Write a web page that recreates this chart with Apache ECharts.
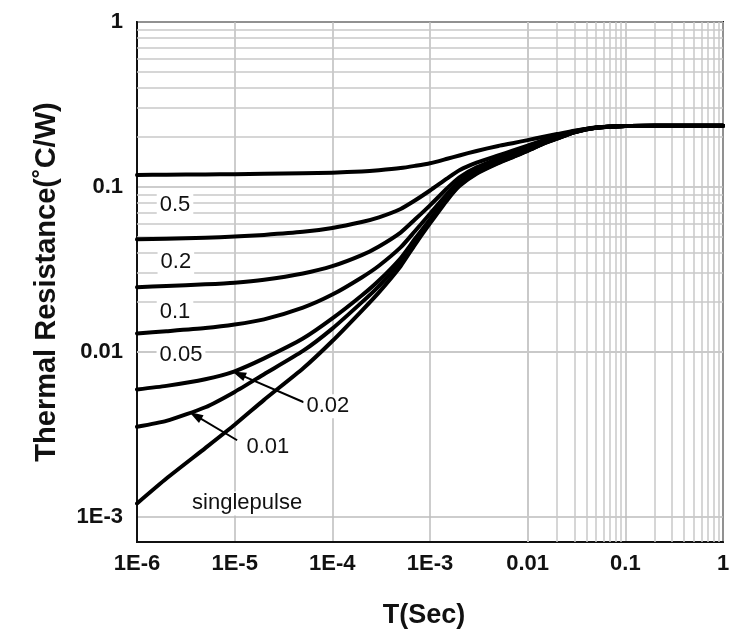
<!DOCTYPE html>
<html>
<head>
<meta charset="utf-8">
<script src="https://cdn.jsdelivr.net/npm/echarts@6/dist/echarts.min.js"></script>
<style>
html,body{margin:0;padding:0;background:#fff;}
#chart{width:752px;height:637px;}
</style>
</head>
<body>
<div id="chart"></div>
<script>
// ---- data ----
const timeSec = [1e-6, 2e-6, 5e-6, 1e-5, 2e-5, 5e-5, 1e-4, 2e-4, 3e-4, 5e-4, 7e-4, 1e-3, 1.5e-3, 2e-3, 3e-3, 5e-3, 7e-3, 1e-2, 1.5e-2, 2e-2, 3e-2, 5e-2, 0.1, 0.2, 0.5, 1];
const zD05   = [0.1181, 0.1184, 0.1188, 0.1193, 0.12, 0.1208, 0.1218, 0.124, 0.1262, 0.130, 0.134, 0.139, 0.148, 0.155, 0.165, 0.177, 0.184, 0.192, 0.202, 0.209, 0.219, 0.228, 0.234, 0.235, 0.235, 0.235];
const zD02   = [0.048, 0.0484, 0.0491, 0.0499, 0.0511, 0.0533, 0.0563, 0.0612, 0.0653, 0.0734, 0.0826, 0.095, 0.1125, 0.126, 0.140, 0.155, 0.1655, 0.178, 0.1935, 0.2035, 0.2178, 0.2292, 0.2342, 0.235, 0.235, 0.235];
const zD01   = [0.0246, 0.025, 0.0256, 0.0262, 0.0273, 0.0298, 0.033, 0.0385, 0.0435, 0.0528, 0.0633, 0.0772, 0.098, 0.1142, 0.1312, 0.1484, 0.1592, 0.1718, 0.189, 0.1998, 0.216, 0.2287, 0.234, 0.235, 0.235, 0.235];
const zD005  = [0.0129, 0.0133, 0.0139, 0.0146, 0.0157, 0.0185, 0.0222, 0.0282, 0.0332, 0.0429, 0.0538, 0.0686, 0.0905, 0.1076, 0.1257, 0.1437, 0.1551, 0.1684, 0.1865, 0.198, 0.215, 0.2284, 0.234, 0.235, 0.235, 0.235];
const zD002  = [0.0059, 0.0062, 0.0068, 0.0076, 0.0091, 0.012, 0.0159, 0.0219, 0.027, 0.0369, 0.0482, 0.0634, 0.0859, 0.1036, 0.1222, 0.1408, 0.1526, 0.1663, 0.185, 0.1968, 0.2144, 0.2281, 0.234, 0.235, 0.235, 0.235];
const zD001  = [0.0035, 0.0038, 0.0046, 0.0057, 0.0073, 0.0101, 0.0138, 0.0199, 0.025, 0.035, 0.0464, 0.0618, 0.0845, 0.1023, 0.1212, 0.14, 0.1518, 0.1657, 0.1845, 0.1964, 0.2142, 0.228, 0.234, 0.235, 0.235, 0.235];
const zSingle= [0.0012, 0.0017, 0.0026, 0.0036, 0.0051, 0.0079, 0.0116, 0.0177, 0.0229, 0.033, 0.0445, 0.060, 0.083, 0.101, 0.120, 0.139, 0.151, 0.165, 0.184, 0.196, 0.214, 0.228, 0.234, 0.235, 0.235, 0.235];

const seriesNames = ['0.5', '0.2', '0.1', '0.05', '0.02', '0.01', 'singlepulse'];
const seriesValues = [zD05, zD02, zD01, zD005, zD002, zD001, zSingle];

const xTickValues = [1e-6, 1e-5, 1e-4, 1e-3, 1e-2, 1e-1, 1];
const xTickLabels = ['1E-6', '1E-5', '1E-4', '1E-3', '0.01', '0.1', '1'];
const yTickValues = [1e-3, 1e-2, 1e-1, 1];
const yTickLabels = ['1E-3', '0.01', '0.1', '1'];
const yMin = 7e-4, yMax = 1;

// ---- chart ----
function tickLabel(vals, labels) {
  return function (v) {
    for (let i = 0; i < vals.length; i++) {
      if (Math.abs(Math.log10(v) - Math.log10(vals[i])) < 1e-6) return labels[i];
    }
    return '';
  };
}

// minor log grid lines (2..9 within each decade)
const minorLines = [];
for (let e = -6; e < 0; e++) {
  for (let k = 2; k <= 9; k++) minorLines.push({ xAxis: k * Math.pow(10, e) });
}
for (let e = -4; e < 0; e++) {
  for (let k = 2; k <= 9; k++) {
    const v = k * Math.pow(10, e);
    if (v > yMin * 1.0001 && v < yMax) minorLines.push({ yAxis: v });
  }
}

const FONT = '"Liberation Sans", Arial, Helvetica, sans-serif';
const labelStyle = {
  show: true, position: 'inside', color: '#111', fontFamily: FONT, fontSize: 22,
  backgroundColor: '#fff', padding: [1, 3]
};

// curve labels placed in data coordinates
const curveLabels = [
  { name: '0.5', coord: [2.45e-6, 0.0772] },
  { name: '0.2', coord: [2.5e-6, 0.0348] },
  { name: '0.1', coord: [2.45e-6, 0.0173] },
  { name: '0.05', coord: [2.82e-6, 0.0095] },
  { name: '0.02', coord: [9.0e-5, 0.00466] },
  { name: '0.01', coord: [2.19e-5, 0.00263] },
  { name: 'singlepulse', coord: [1.34e-5, 0.0012] }
];

const series = seriesNames.map(function (n, si) {
  return {
    name: n,
    type: 'line',
    data: timeSec.map(function (t, i) { return [t, seriesValues[si][i]]; }),
    showSymbol: false,
    smooth: 0.2,
    lineStyle: { color: '#000', width: 4, join: 'round', cap: 'round' },
    z: 5,
    silent: true
  };
});

// helper series for grid lines, labels and arrows
series.push({
  type: 'line',
  data: [],
  silent: true,
  z: 1,
  markLine: {
    silent: true,
    symbol: ['none', 'none'],
    animation: false,
    label: { show: false },
    lineStyle: { color: '#c9c9c9', width: 1.5, type: 'solid' },
    data: minorLines
  }
});
series.push({
  type: 'line',
  data: [],
  silent: true,
  z: 3,
  markPoint: {
    silent: true,
    animation: false,
    symbol: 'rect',
    symbolSize: 1,
    itemStyle: { color: 'rgba(0,0,0,0)' },
    label: labelStyle,
    data: curveLabels.map(function (c) {
      return { coord: c.coord, value: c.name, label: { formatter: c.name } };
    })
  }
});
series.push({
  type: 'line',
  data: [],
  silent: true,
  z: 6,
  markLine: {
    silent: true,
    animation: false,
    symbol: ['none', 'triangle'],
    symbolSize: [9, 14],
    label: { show: false },
    lineStyle: { color: '#000', width: 2, type: 'solid' },
    data: [
      [{ coord: [5.1e-5, 0.00493] }, { coord: [1.1e-5, 0.0073] }],
      [{ coord: [1.06e-5, 0.0029] }, { coord: [3.95e-6, 0.0041] }]
    ]
  }
});

const chart = echarts.init(document.getElementById('chart'), null, { renderer: 'canvas' });
chart.setOption({
  animation: false,
  backgroundColor: '#fff',
  grid: {
    left: 137, right: 29, top: 22, bottom: 95,
    show: true, borderColor: '#111', borderWidth: 2, backgroundColor: 'transparent',
    containLabel: false
  },
  xAxis: {
    type: 'log', logBase: 10, min: 1e-6, max: 1,
    name: 'T(Sec)', nameLocation: 'middle', nameGap: 60,
    nameTextStyle: { fontFamily: FONT, fontWeight: 'bold', fontSize: 27, color: '#111', padding: [0, 12, 0, 0] },
    axisLine: { show: true, lineStyle: { color: '#111', width: 2 } },
    axisTick: { show: false },
    axisLabel: { formatter: tickLabel(xTickValues, xTickLabels), fontFamily: FONT, fontWeight: 'bold', fontSize: 22, color: '#111', margin: 11 },
    splitLine: { show: true, lineStyle: { color: '#bdbdbd', width: 1.5 } }
  },
  yAxis: {
    type: 'log', logBase: 10, min: yMin, max: yMax,
    name: 'Thermal Resistance(\u02DAC/W)', nameLocation: 'middle', nameGap: 76, nameRotate: 90,
    nameTextStyle: { fontFamily: FONT, fontWeight: 'bold', fontSize: 29, color: '#111' },
    axisLine: { show: true, lineStyle: { color: '#111', width: 2 } },
    axisTick: { show: false },
    axisLabel: { formatter: tickLabel(yTickValues, yTickLabels), fontFamily: FONT, fontWeight: 'bold', fontSize: 22, color: '#111', margin: 14, showMinLabel: false },
    splitLine: { show: true, lineStyle: { color: '#bdbdbd', width: 1.5 } }
  },
  series: series
});
</script>
</body>
</html>
